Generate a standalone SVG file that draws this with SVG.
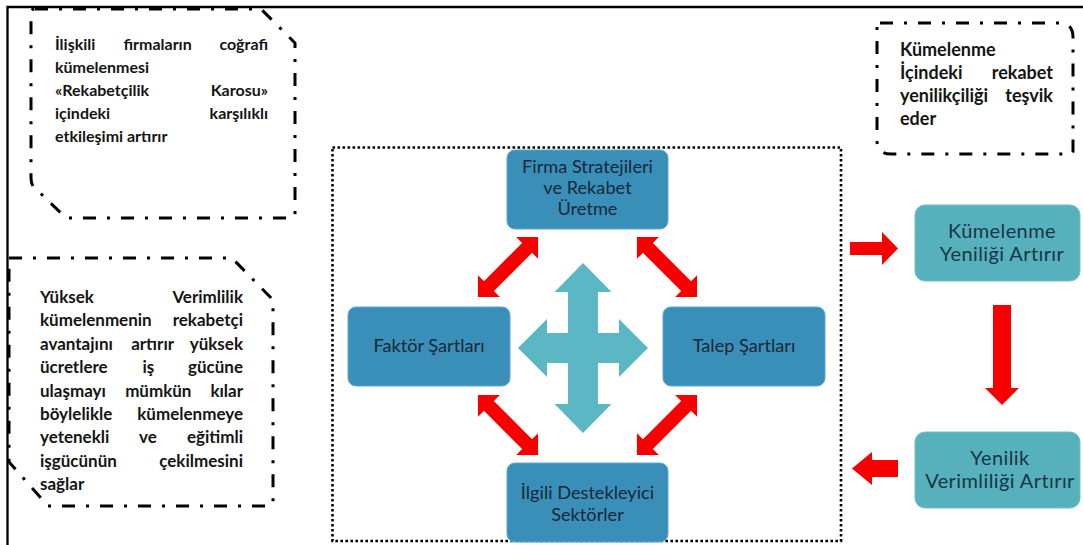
<svg xmlns="http://www.w3.org/2000/svg" width="1083" height="545" viewBox="0 0 1083 545">
<style>
.frame{fill:none;stroke:#000;stroke-width:2.3}
.dd{fill:none;stroke:#000;stroke-width:3;stroke-dasharray:13 11 3 11}
.dot{fill:none;stroke:#000;stroke-width:2.6;stroke-dasharray:2.6 2.4}
.bt{font-family:Lato,"Open Sans","Liberation Sans",sans-serif;font-weight:bold;fill:#141414}
.b1{font-size:16px}
.b2{font-size:17px}
.b3{font-size:18px}
.blue{fill:#3a8fb8;stroke:#5aa8cf;stroke-width:1}
.teal{fill:#56b1bc;stroke:#6cc0ca;stroke-width:1}
.nt{font-family:Lato,"Open Sans","Liberation Sans",sans-serif;font-size:18.2px;fill:#17283a;text-anchor:middle}
.tt{font-family:Lato,"Open Sans","Liberation Sans",sans-serif;font-size:20px;letter-spacing:0.4px;fill:#183646;text-anchor:middle}
.red{fill:#f60000}
.cross{fill:#5bb7c3}
.e{text-anchor:end}
.m{text-anchor:middle}
</style>
<defs>
<path id="dbl" d="M -42.5,0 L -27,-15.5 L -27,-7 L 27,-7 L 27,-15.5 L 42.5,0 L 27,15.5 L 27,7 L -27,7 L -27,15.5 Z"/>
</defs>

<path class="frame" d="M 7.5,545 L 7.5,7 L 1083,7"/>

<g id="note-cografi">
<path class="dd" d="M 35,9 L 261,9 L 295,43 L 295,213 Q 295,218 290,218 L 66,218 L 33,186 Q 31,183 31,178 L 31,13 Q 31,9 35,9 Z"/>
<text class="bt b1"><tspan x="55" y="50">İlişkili</tspan><tspan x="157.6" y="50" class="m">firmaların</tspan><tspan x="268" y="50" class="e">coğrafi</tspan></text>
<text class="bt b1" x="55" y="73">kümelenmesi</text>
<text class="bt b1"><tspan x="55" y="96">«Rekabetçilik</tspan><tspan x="268" y="96" class="e">Karosu»</tspan></text>
<text class="bt b1"><tspan x="55" y="119">içindeki</tspan><tspan x="268" y="119" class="e">karşılıklı</tspan></text>
<text class="bt b1" x="55" y="142">etkileşimi artırır</text>
</g>

<g id="note-verimlilik">
<path class="dd" d="M 9,258 L 232,258 L 273,300 L 273,502 Q 273,506 269,506 L 48,506 L 9,462 Z"/>
<text class="bt b2"><tspan x="40" y="303">Yüksek</tspan><tspan x="243" y="303" class="e">Verimlilik</tspan></text>
<text class="bt b2"><tspan x="40" y="326.4">kümelenmenin</tspan><tspan x="243" y="326.4" class="e">rekabetçi</tspan></text>
<text class="bt b2"><tspan x="40" y="349.8">avantajını</tspan><tspan x="152.6" y="349.8" class="m">artırır</tspan><tspan x="243" y="349.8" class="e">yüksek</tspan></text>
<text class="bt b2"><tspan x="40" y="373.2">ücretlere</tspan><tspan x="148.3" y="373.2" class="m">iş</tspan><tspan x="243" y="373.2" class="e">gücüne</tspan></text>
<text class="bt b2"><tspan x="40" y="396.6">ulaşmayı</tspan><tspan x="158.3" y="396.6" class="m">mümkün</tspan><tspan x="243" y="396.6" class="e">kılar</tspan></text>
<text class="bt b2"><tspan x="40" y="420">böylelikle</tspan><tspan x="243" y="420" class="e">kümelenmeye</tspan></text>
<text class="bt b2"><tspan x="40" y="443.4">yetenekli</tspan><tspan x="147.9" y="443.4" class="m">ve</tspan><tspan x="243" y="443.4" class="e">eğitimli</tspan></text>
<text class="bt b2"><tspan x="40" y="466.8">işgücünün</tspan><tspan x="243" y="466.8" class="e">çekilmesini</tspan></text>
<text class="bt b2" x="40" y="490.2">sağlar</text>
</g>

<g id="note-rekabet">
<path class="dd" d="M 880,23 L 1059,23 Q 1073,23 1073,37 L 1073,151 Q 1073,154 1070,154 L 891,154 Q 877,154 877,140 L 877,26 Q 877,23 880,23 Z"/>
<text class="bt b3" x="900" y="56">Kümelenme</text>
<text class="bt b3"><tspan x="900" y="79">İçindeki</tspan><tspan x="1053" y="79" class="e">rekabet</tspan></text>
<text class="bt b3"><tspan x="900" y="102">yenilikçiliği</tspan><tspan x="1053" y="102" class="e">teşvik</tspan></text>
<text class="bt b3" x="900" y="125">eder</text>
</g>

<g id="diamond-frame">
<rect class="dot" x="332.5" y="147.5" width="508.5" height="393.5"/>
</g>

<g id="node-firma">
<rect class="blue" x="507" y="150" width="161" height="79" rx="8"/>
<text class="nt"><tspan x="587.5" y="173">Firma Stratejileri</tspan><tspan x="587.5" y="194">ve Rekabet</tspan><tspan x="587.5" y="215">Üretme</tspan></text>
</g>
<g id="node-faktor">
<rect class="blue" x="348" y="307" width="162" height="79" rx="8"/>
<text class="nt" x="429" y="352">Faktör Şartları</text>
</g>
<g id="node-talep">
<rect class="blue" x="663" y="307" width="162" height="79" rx="8"/>
<text class="nt" x="744" y="352">Talep Şartları</text>
</g>
<g id="node-ilgili">
<rect class="blue" x="507" y="463" width="161" height="79" rx="8"/>
<text class="nt"><tspan x="587.5" y="499">İlgili Destekleyici</tspan><tspan x="587.5" y="521">Sektörler</tspan></text>
</g>

<g id="node-center-cross">
<path class="cross" d="M 518,348 L 547,319 L 547,333 L 568,333 L 568,292 L 554.5,292 L 583,263 L 611.5,292 L 598,292 L 598,333 L 619,333 L 619,319 L 648,348 L 619,377 L 619,363 L 598,363 L 598,404 L 611.5,404 L 583,433 L 554.5,404 L 568,404 L 568,363 L 547,363 L 547,377 Z"/>
</g>

<g id="node-kumelenme">
<rect class="teal" x="915" y="205" width="165" height="76" rx="10"/>
<text class="tt"><tspan x="1002" y="237.5">Kümelenme</tspan><tspan x="1002" y="261">Yeniliği Artırır</tspan></text>
</g>
<g id="node-yenilik">
<rect class="teal" x="915" y="432" width="165" height="76" rx="10"/>
<text class="tt"><tspan x="1000" y="464.5">Yenilik</tspan><tspan x="1000" y="488">Verimliliği Artırır</tspan></text>
</g>

<g id="connectors">
<use href="#dbl" class="red" transform="translate(508,267) rotate(-45)"/>
<use href="#dbl" class="red" transform="translate(667,267) rotate(45)"/>
<use href="#dbl" class="red" transform="translate(508,425) rotate(45)"/>
<use href="#dbl" class="red" transform="translate(667,425) rotate(-45)"/>
<path class="red" d="M 850,242 L 882,242 L 882,232 L 898,248.5 L 882,265 L 882,255 L 850,255 Z"/>
<path class="red" d="M 993,305 L 1011,305 L 1011,388 L 1019,388 L 1002,405 L 985,388 L 993,388 Z"/>
<path class="red" d="M 898,460 L 872,460 L 872,452 L 852,468.5 L 872,485 L 872,477 L 898,477 Z"/>
</g>
</svg>
